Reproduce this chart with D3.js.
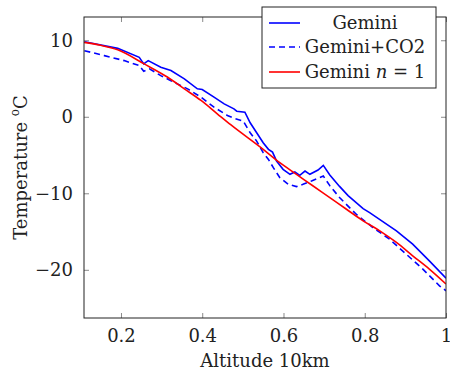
<!DOCTYPE html>
<html>
<head>
<meta charset="utf-8">
<script src="https://cdn.jsdelivr.net/npm/d3@7"></script>
<style>
  body { margin: 0; background: #fff; }
  svg text { font-family: "DejaVu Serif", serif; }
</style>
</head>
<body>
<div id="chart"></div>
<script>
// altitude (x, in units of 10km) and temperature (deg C)
const geminiX = [0.110, 0.192, 0.245, 0.256, 0.267, 0.298, 0.323, 0.356, 0.388, 0.400, 0.429, 0.454, 0.478, 0.485, 0.505,
  0.518, 0.534, 0.550, 0.563, 0.573, 0.583, 0.599, 0.616, 0.628, 0.640, 0.653, 0.665, 0.685, 0.698, 0.714, 0.738, 0.759,
  0.796, 0.812, 0.878, 0.918, 0.959, 1.000];
const geminiY = [9.8, 8.94, 7.77, 6.91, 7.34, 6.47, 6.04, 4.95, 3.65, 3.56, 2.56, 1.69, 1.04, 0.73, 0.6,
  -0.78, -2.09, -3.39, -4.26, -4.62, -5.79, -6.87, -7.52, -7.22, -7.65, -7.09, -7.52, -6.96, -6.35, -7.6, -9.1, -10.3,
  -12.0, -12.52, -14.91, -16.65, -18.83, -21.1];

const co2X = [0.110, 0.159, 0.208, 0.245, 0.256, 0.270, 0.298, 0.331, 0.364, 0.397, 0.429, 0.462, 0.478, 0.501,
  0.518, 0.534, 0.550, 0.563, 0.575, 0.591, 0.612, 0.632, 0.648, 0.669, 0.698, 0.714, 0.738, 0.779, 0.820, 0.861,
  0.902, 0.943, 0.984, 1.000];
const co2Y = [8.64, 7.99, 7.34, 6.69, 5.95, 6.26, 5.38, 4.51, 3.65, 2.56, 1.25, 0.17, -0.18, -0.57,
  -2.09, -3.18, -4.69, -5.57, -6.65, -7.95, -8.83, -9.13, -8.83, -8.4, -7.74, -9.0, -10.56, -12.74, -14.47, -16.0,
  -17.95, -19.91, -22.09, -22.74];

const n1X = [0.109, 0.150, 0.192, 0.257, 0.315, 0.356, 0.397, 0.437, 0.470, 0.550, 0.591, 0.632, 0.673, 0.714,
  0.755, 0.796, 0.837, 0.878, 0.918, 0.959, 1.000];
const n1Y = [9.73, 9.35, 8.75, 6.91, 5.16, 3.65, 2.13, 0.39, -1.04, -4.26, -6.0, -7.52, -9.05, -10.56,
  -12.09, -13.6, -14.91, -16.43, -18.17, -19.91, -21.86];

const xTicks = [0.2, 0.4, 0.6, 0.8, 1];
const yTicks = [10, 0, -10, -20];

const W = 450, H = 375;
const margin = {top: 17, right: 4, bottom: 57, left: 84};
const width = W - margin.left - margin.right,
      height = H - margin.top - margin.bottom;
const FONT = 18;

const svg = d3.select("#chart").append("svg")
    .attr("width", W).attr("height", H);
const g = svg.append("g")
    .attr("transform", "translate(" + margin.left + "," + margin.top + ")");

const x = d3.scaleLinear().domain([0.109, 1]).range([0, width]);
const y = d3.scaleLinear().domain([-26.3, 13.04]).range([height, 0]);

g.append("clipPath").attr("id", "clip")
  .append("rect").attr("width", width).attr("height", height);

// inner ticks on all four sides
const tickLen = 5;
const fmtY = d => (d < 0 ? "\u2212" + Math.abs(d) : "" + d);
const tickColor = "#8a8a8a";

function styleAxis(a) {
  a.attr("font-family", null).attr("font-size", null);
  a.select(".domain").remove();
  a.selectAll("line").attr("stroke", tickColor);
  a.selectAll("text").attr("font-size", FONT).attr("fill", "#222");
}

g.append("g").attr("transform", "translate(0," + height + ")")
  .call(d3.axisBottom(x).tickValues(xTicks).tickSizeInner(-tickLen).tickSizeOuter(0).tickPadding(11)
    .tickFormat(d => d === 1 ? "1" : d3.format(".1f")(d)))
  .call(styleAxis);
g.append("g")
  .call(d3.axisTop(x).tickValues(xTicks).tickSizeInner(-tickLen).tickSizeOuter(0).tickFormat(""))
  .call(styleAxis);
g.append("g")
  .call(d3.axisLeft(y).tickValues(yTicks).tickSizeInner(-tickLen).tickSizeOuter(0).tickPadding(11).tickFormat(fmtY))
  .call(styleAxis);
g.append("g").attr("transform", "translate(" + width + ",0)")
  .call(d3.axisRight(y).tickValues(yTicks).tickSizeInner(-tickLen).tickSizeOuter(0).tickFormat(""))
  .call(styleAxis);

// curves
const series = [
  {name: "Gemini", xs: geminiX, ys: geminiY, color: "#0000ff", dash: null, curve: d3.curveLinear},
  {name: "Gemini+CO2", xs: co2X, ys: co2Y, color: "#0000ff", dash: "6,4", curve: d3.curveLinear},
  {name: "n1", xs: n1X, ys: n1Y, color: "#ff0000", dash: null, curve: d3.curveMonotoneX}
];
const plot = g.append("g").attr("clip-path", "url(#clip)");
series.forEach(s => {
  const pts = s.xs.map((v, i) => [v, s.ys[i]]);
  plot.append("path")
    .datum(pts)
    .attr("fill", "none")
    .attr("stroke", s.color)
    .attr("stroke-width", 1.6)
    .attr("stroke-dasharray", s.dash)
    .attr("d", d3.line().curve(s.curve).x(d => x(d[0])).y(d => y(d[1])));
});

// frame
g.append("rect").attr("width", width).attr("height", height)
  .attr("fill", "none").attr("stroke", "#222").attr("stroke-width", 1);

// axis labels
g.append("text")
  .attr("x", width / 2).attr("y", height + 49)
  .attr("text-anchor", "middle").attr("font-size", FONT).attr("fill", "#222")
  .text("Altitude 10km");
const yl = svg.append("text")
  .attr("transform", "translate(27," + (margin.top + height / 2) + ") rotate(-90)")
  .attr("text-anchor", "middle").attr("font-size", FONT).attr("fill", "#222");
yl.append("tspan").text("Temperature ");
yl.append("tspan").attr("font-size", 12).attr("dy", -8).text("o");
yl.append("tspan").attr("dy", 8).text("C");

// legend
const lg = svg.append("g").attr("transform", "translate(262,7)");
lg.append("rect").attr("width", 174).attr("height", 81)
  .attr("fill", "#fff").attr("stroke", "#222").attr("stroke-width", 1);
const rows = [16, 40, 65];
series.forEach((s, i) => {
  lg.append("line")
    .attr("x1", 7).attr("x2", 38).attr("y1", rows[i]).attr("y2", rows[i])
    .attr("stroke", s.color).attr("stroke-width", 1.6).attr("stroke-dasharray", s.dash);
  const t = lg.append("text").attr("x", 103).attr("y", rows[i] + 6)
    .attr("text-anchor", "middle").attr("font-size", FONT).attr("fill", "#222");
  if (s.name === "n1") {
    t.append("tspan").text("Gemini ");
    t.append("tspan").attr("font-style", "italic").text("n");
    t.append("tspan").text(" = 1");
  } else {
    t.text(s.name);
  }
});
</script>
</body>
</html>
